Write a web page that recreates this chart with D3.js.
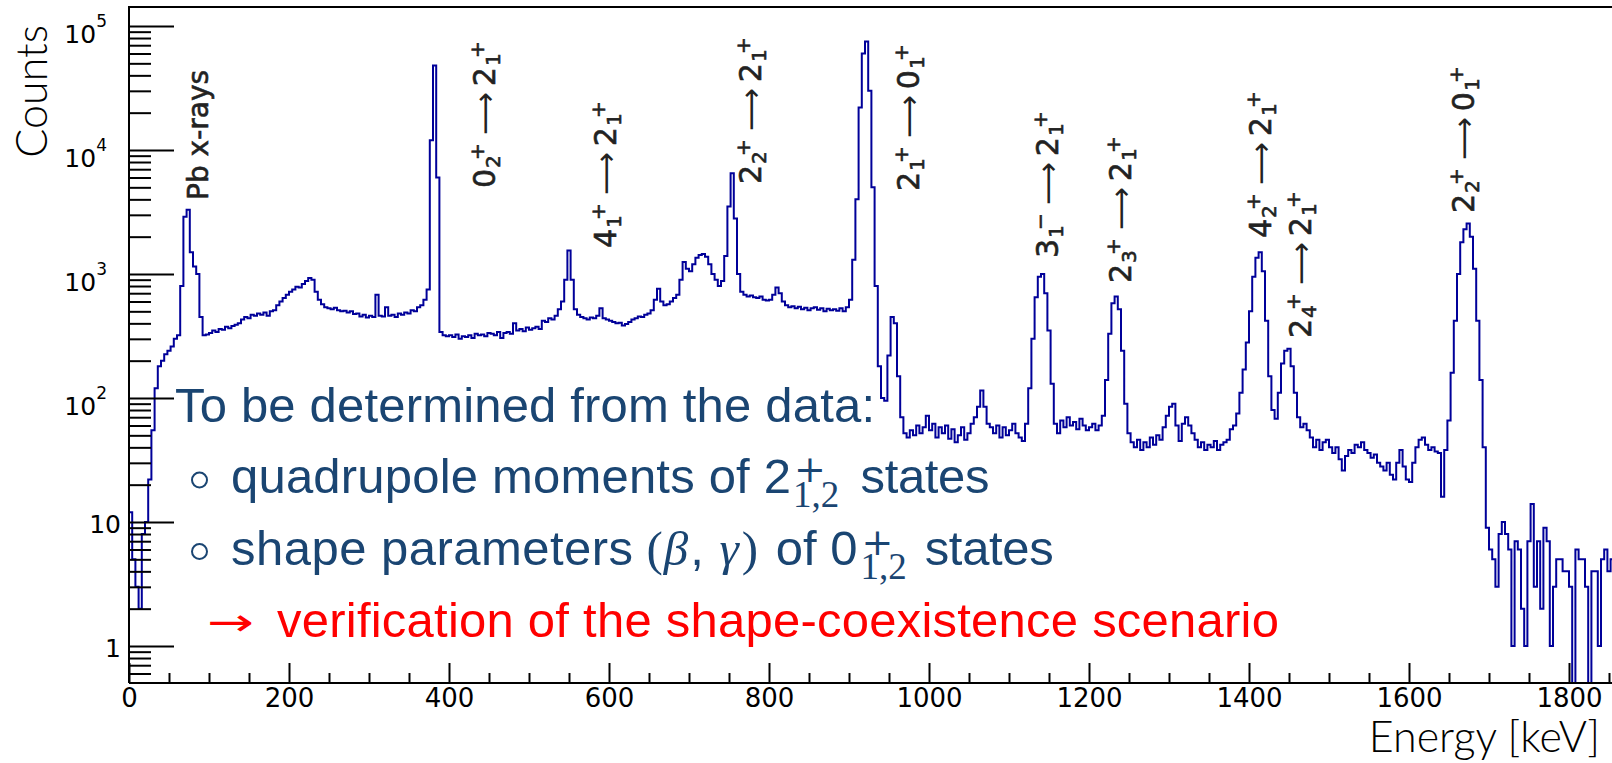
<!DOCTYPE html>
<html lang="en">
<head>
<meta charset="utf-8">
<title>Gamma-ray spectrum</title>
<script src="https://cdnjs.cloudflare.com/ajax/libs/d3/7.8.5/d3.min.js"></script>
<style>
  body { margin: 0; background: #fff; }
  svg { display: block; }
  text { white-space: pre; }
</style>
</head>
<body>
<div id="chart"></div>
<script>
const width = 1612
const height = 763

// histogram frame, the right edge runs just past the window
const frame = { left: 129, top: 7, right: 1616, bottom: 683 }

// counts per 4 keV bin, one array per 200 keV
const binWidth = 4
const counts0000 = [12, 5, 3, 2, 8, 10, 22, 55, 120, 180,
  200, 225, 240, 260, 300, 320, 800, 2900, 3300, 1500,
  1150, 1000, 450, 320, 325, 335, 350, 340, 360, 355,
  375, 365, 380, 390, 400, 430, 450, 440, 470, 460,
  480, 470, 490, 460, 500, 510, 560, 600, 640, 680]
const counts0200 = [720, 750, 790, 780, 830, 880, 930, 900, 720, 620,
  570, 540, 530, 520, 535, 510, 500, 505, 490, 500,
  475, 480, 455, 470, 445, 460, 450, 680, 460, 455,
  540, 460, 470, 450, 480, 470, 490, 480, 510, 500,
  540, 560, 620, 750, 12000, 48000, 6000, 340, 320, 315]
const counts0400 = [320, 310, 325, 300, 315, 310, 320, 305, 330, 320,
  325, 315, 335, 330, 320, 340, 305, 335, 340, 330,
  400, 350, 360, 345, 370, 355, 365, 375, 360, 420,
  410, 440, 430, 460, 520, 600, 900, 1550, 900, 520,
  470, 450, 440, 430, 445, 440, 460, 530, 440, 430]
const counts0600 = [420, 410, 400, 405, 385, 395, 410, 430, 440, 455,
  450, 470, 480, 510, 620, 760, 600, 560, 570, 600,
  640, 680, 900, 1250, 1100, 1050, 1200, 1350, 1420, 1450,
  1380, 1200, 1000, 900, 800, 880, 1400, 3500, 6500, 2800,
  1000, 720, 680, 660, 670, 650, 640, 660, 620, 610]
const counts0800 = [620, 680, 780, 700, 600, 560, 540, 550, 530, 545,
  520, 535, 510, 530, 540, 515, 530, 500, 525, 510,
  520, 505, 530, 500, 540, 620, 1300, 4000, 22000, 60000,
  75000, 30000, 5000, 800, 180, 100, 95, 220, 450, 400,
  150, 70, 52, 48, 55, 50, 60, 52, 58, 72]
const counts1000 = [55, 62, 48, 58, 52, 60, 47, 56, 44, 50,
  58, 46, 52, 62, 70, 85, 115, 85, 62, 58,
  52, 60, 48, 58, 50, 55, 62, 52, 48, 45,
  62, 120, 300, 650, 950, 1000, 700, 350, 130, 62,
  52, 66, 58, 70, 60, 64, 56, 68, 60, 55]
const counts1200 = [58, 62, 55, 60, 72, 140, 330, 580, 660, 520,
  240, 90, 52, 44, 40, 46, 38, 44, 40, 48,
  42, 50, 46, 58, 72, 85, 90, 60, 45, 62,
  70, 60, 52, 46, 40, 44, 38, 42, 40, 45,
  38, 42, 44, 46, 56, 60, 75, 110, 170, 280]
const counts1400 = [500, 950, 1350, 1500, 1050, 420, 150, 80, 68, 110,
  190, 240, 250, 180, 110, 70, 58, 62, 55, 48,
  40, 46, 38, 44, 46, 40, 36, 40, 32, 26,
  34, 38, 36, 42, 40, 44, 38, 36, 33, 35,
  30, 28, 26, 30, 24, 22, 30, 38, 28, 22]
const counts1600 = [21, 30, 40, 46, 48, 42, 38, 40, 37, 36,
  16, 38, 66, 160, 420, 1000, 1800, 2300, 2550, 2000,
  1100, 420, 140, 40, 9, 6, 5, 3, 8, 10,
  8, 6, 1, 7, 6, 2, 1, 7, 14, 3,
  7, 2, 9, 7, 1, 3, 5, 5, 4, 4]
const counts1800 = [3, 0, 6, 5, 5, 3, 0, 4, 4, 1, 5, 6, 4, 5]

const xTicks = [0, 200, 400, 600, 800, 1000, 1200, 1400, 1600, 1800]
const yTicks = [1, 10, 100, 1000, 10000, 100000]

// transition labels: where they sit on the energy axis and what they say
const labelEnergy = [99, 457.5, 609, 790, 987.5, 1161, 1252.5, 1427.5, 1477.5, 1681]
const labelText = [
  'Pb x-rays',
  [['0', '2', '+'], ['2', '1', '+']],
  [['4', '1', '+'], ['2', '1', '+']],
  [['2', '2', '+'], ['2', '1', '+']],
  [['2', '1', '+'], ['0', '1', '+']],
  [['3', '1', '\u2212'], ['2', '1', '+']],
  [['2', '3', '+'], ['2', '1', '+']],
  [['4', '2', '+'], ['2', '1', '+']],
  [['2', '4', '+'], ['2', '1', '+']],
  [['2', '2', '+'], ['0', '1', '+']]
]
const labelBottom = [200, 188, 248, 184, 191, 258, 283, 238, 338, 213]

const tickFont = '"DejaVu Sans", sans-serif'
const titleFont = 'Lato, "Noto Sans", sans-serif'
const sansFont = '"Liberation Sans", Arial, sans-serif'
const serifFont = '"Liberation Serif", "DejaVu Serif", serif'
const plusFont = '"DejaVu Serif", serif'
const lineColor = '#000099'
const noteBlue = '#1a4572'
const noteRed = '#ff0000'

const svg = d3.select('#chart').append('svg')
  .attr('width', width)
  .attr('height', height)

const xScale = d3.scaleLinear().domain([0, 1800]).range([129, 1569])
const yScale = d3.scaleLog().domain([1, 1e5]).range([646, 26])

// histogram as steps
const counts = [].concat(counts0000, counts0200, counts0400, counts0600, counts0800,
  counts1000, counts1200, counts1400, counts1600, counts1800)
const bins = counts.map((c, i) => ({ e: i * binWidth, c: c }))
bins.push({ e: counts.length * binWidth, c: counts[counts.length - 1] })

svg.append('clipPath').attr('id', 'plotClip')
  .append('rect')
  .attr('x', frame.left).attr('y', frame.top)
  .attr('width', frame.right - frame.left).attr('height', frame.bottom - frame.top)

const stepLine = d3.line()
  .x(d => xScale(d.e))
  .y(d => d.c > 0 ? yScale(d.c) : frame.bottom + 4)
  .curve(d3.curveStepAfter)

svg.append('path')
  .datum(bins)
  .attr('clip-path', 'url(#plotClip)')
  .attr('d', stepLine)
  .attr('fill', 'none')
  .attr('stroke', lineColor)
  .attr('stroke-width', 2)

// axes, ticks pointing into the frame
const xMinor = d3.range(0, 1851, 50).filter(v => v % 200 !== 0)
const yMinor = []
;[0.1, 1, 10, 100, 1000, 10000].forEach(d => {
  for (let m = 2; m <= 9; m++) {
    const v = m * d
    const py = yScale(v)
    if (py <= frame.bottom && py >= frame.top) yMinor.push(v)
  }
})

function tidy(g) {
  g.select('.domain').remove()
  g.selectAll('line').attr('stroke', '#000').attr('stroke-width', 2)
}

svg.append('g')
  .attr('transform', `translate(0,${frame.bottom})`)
  .call(d3.axisTop(xScale).tickValues(xMinor).tickSize(10).tickFormat(''))
  .call(tidy)
svg.append('g')
  .attr('transform', `translate(0,${frame.bottom})`)
  .call(d3.axisTop(xScale).tickValues(xTicks).tickSize(20).tickFormat(''))
  .call(tidy)
svg.append('g')
  .attr('transform', `translate(0,${frame.bottom})`)
  .call(d3.axisBottom(xScale).tickValues(xTicks).tickSize(0).tickPadding(6).tickFormat(d3.format('d')))
  .call(g => g.select('.domain').remove())
  .call(g => g.selectAll('text').attr('font-family', tickFont).attr('font-size', 26).attr('fill', '#000'))

svg.append('g')
  .attr('transform', `translate(${frame.left},0)`)
  .call(d3.axisRight(yScale).tickValues(yMinor).tickSize(22).tickFormat(''))
  .call(tidy)
svg.append('g')
  .attr('transform', `translate(${frame.left},0)`)
  .call(d3.axisRight(yScale).tickValues(yTicks).tickSize(45).tickFormat(''))
  .call(tidy)

const yLab = svg.append('g').attr('font-family', tickFont).attr('font-size', 25).attr('fill', '#000')
yTicks.forEach(v => {
  const p = Math.round(Math.log10(v))
  if (p < 2) {
    yLab.append('text').attr('x', 121).attr('y', yScale(v) + 11)
      .attr('text-anchor', 'end').text(v)
  } else {
    const t = yLab.append('text').attr('x', 107).attr('y', yScale(v) + 17)
      .attr('text-anchor', 'end')
    t.append('tspan').text('10')
    t.append('tspan').attr('dy', -16).attr('font-size', 17).text(p)
  }
})

// frame
svg.append('path')
  .attr('d', `M${frame.left},${frame.bottom}V${frame.top}H${frame.right}M${frame.left},${frame.bottom}H${frame.right}`)
  .attr('fill', 'none').attr('stroke', '#000').attr('stroke-width', 2)

// axis titles
svg.append('text')
  .attr('transform', 'translate(47,25) rotate(-90)')
  .attr('text-anchor', 'end')
  .attr('font-family', titleFont).attr('font-size', 43).attr('font-weight', 300)
  .text('Counts')
svg.append('text')
  .attr('x', 1600).attr('y', 752)
  .attr('text-anchor', 'end')
  .attr('font-family', titleFont).attr('font-size', 43).attr('font-weight', 300)
  .text('Energy [keV]')

// transition labels, written bottom to top
const labels = svg.append('g')
  .attr('font-family', tickFont)
  .attr('fill', '#222').attr('stroke', '#222').attr('stroke-width', 0.6)
labelText.forEach((spec, i) => {
  const g = labels.append('g')
    .attr('transform', `translate(${xScale(labelEnergy[i])},${labelBottom[i]}) rotate(-90)`)
  const put = (str, x, y, size) => {
    const t = g.append('text').attr('x', x).attr('y', y).attr('font-size', size).text(str)
    return t.node().getComputedTextLength()
  }
  if (typeof spec === 'string') {
    put(spec, 0, 0, 28)
    return
  }
  let cx = 0
  spec.forEach((lvl, k) => {
    if (k > 0) {
      cx += 8
      g.append('text').attr('x', cx).attr('y', 0).attr('font-size', 30)
        .attr('stroke-width', 0)
        .attr('textLength', 43).attr('lengthAdjust', 'spacingAndGlyphs')
        .text('\u27F6')
      cx += 43 + 6
    }
    cx += put(lvl[0], cx, 0, 30)
    const ws = put(lvl[1], cx + 1, 5, 20)
    const wp = put(lvl[2], cx + 9, -11, 20)
    cx += Math.max(ws + 1, wp + 9)
  })
})

// notes written over the spectrum
const notes = svg.append('g')
function note(x, y, str, color, o = {}) {
  const t = notes.append('text')
    .attr('x', x).attr('y', y)
    .attr('font-family', o.font || sansFont)
    .attr('font-size', o.size || 49)
    .attr('font-style', o.italic ? 'italic' : null)
    .attr('fill', color)
    .text(str)
  if (o.len) t.attr('textLength', o.len).attr('lengthAdjust', o.stretch ? 'spacingAndGlyphs' : 'spacing')
  return t.node().getComputedTextLength()
}

note(175, 422, 'To be determined from the data:', noteBlue, { len: 700 })

;[480, 551.5].forEach(cy => {
  notes.append('circle').attr('cx', 199.5).attr('cy', cy).attr('r', 7.5)
    .attr('fill', 'none').attr('stroke', noteBlue).attr('stroke-width', 2)
})

note(231, 493, 'quadrupole moments of 2', noteBlue, { len: 560 })
note(794, 482, '+', noteBlue, { font: plusFont, size: 38 })
note(793, 507, '1,2', noteBlue, { font: serifFont, size: 37 })
note(860.5, 493, 'states', noteBlue, { len: 129 })

// third line flows after the parenthesis
note(231, 565, 'shape parameters', noteBlue, { len: 402 })
let cx = 646.5
cx += note(cx, 565, '(', noteBlue, { font: serifFont })
cx += 1 + note(cx + 1, 565, '\u03B2', noteBlue, { font: serifFont, italic: true })
cx += 2 + note(cx + 2, 565, ', ', noteBlue)
cx += 2 + note(cx + 2, 565, '\u03B3', noteBlue, { font: serifFont, italic: true })
cx += 3 + note(cx + 3, 565, ')', noteBlue, { font: serifFont })
cx += 4 + note(cx + 4, 565, ' of 0', noteBlue)
note(cx + 4, 555, '+', noteBlue, { font: plusFont, size: 38 })
cx += 3 + note(cx + 3, 579, '1,2', noteBlue, { font: serifFont, size: 37 })
note(cx + 18, 565, 'states', noteBlue, { len: 129 })

note(207, 635, '\u2192', noteRed, { font: '"DejaVu Sans", sans-serif', size: 38, len: 47, stretch: true })
note(277, 637, 'verification of the shape-coexistence scenario', noteRed, { len: 1002 })
</script>
</body>
</html>
